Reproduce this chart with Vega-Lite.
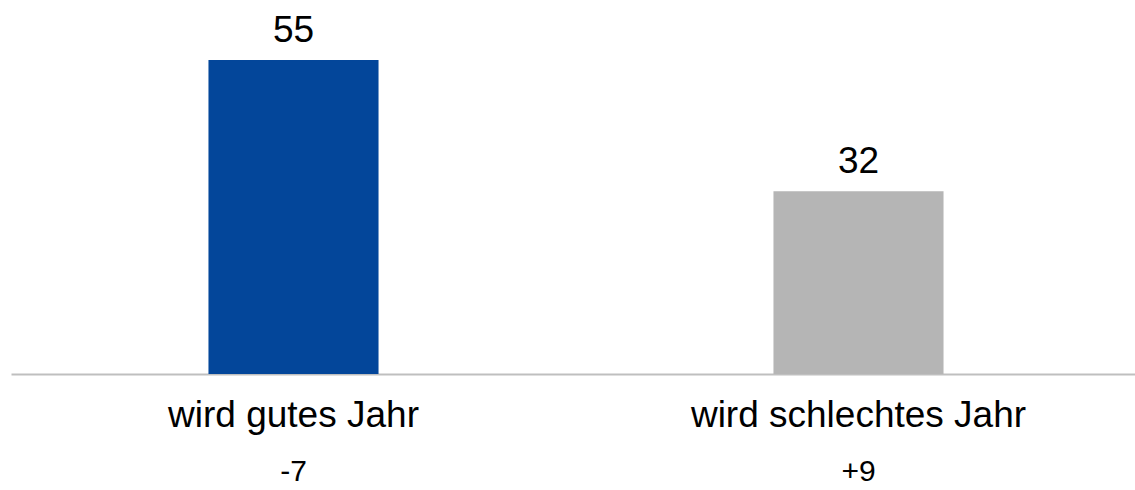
{
  "$schema": "https://vega.github.io/schema/vega-lite/v6.json",
  "width": 1130,
  "height": 374,
  "autosize": {"type": "none"},
  "padding": {"left": 11, "top": 0, "right": 0, "bottom": 116},
  "background": "white",
  "config": {"view": {"stroke": null}, "font": "Liberation Sans"},
  "data": {"values": [
    {"kategorie": "wird gutes Jahr", "wert": 55, "veraenderung": "-7"},
    {"kategorie": "wird schlechtes Jahr", "wert": 32, "veraenderung": "+9"}
  ]},
  "encoding": {
    "x": {"field": "kategorie", "type": "nominal", "sort": null,
      "scale": {"paddingInner": 0, "paddingOuter": 0},
      "axis": {"title": null, "ticks": false, "domainColor": "#bfbfbf", "domainWidth": 2,
        "labelFontSize": 37, "labelColor": "#000000", "labelAngle": 0, "labelLimit": 1000,
        "labelBaseline": "alphabetic", "labelPadding": 52, "labelFont": "Liberation Sans"}}
  },
  "layer": [
    {
      "mark": {"type": "bar", "width": {"band": 0.301}},
      "encoding": {
        "y": {"field": "wert", "type": "quantitative", "scale": {"domain": [0, 65.5], "nice": false, "zero": true}, "axis": null},
        "color": {"field": "kategorie", "type": "nominal", "sort": null,
          "scale": {"range": ["#03469A", "#B5B5B5"]}, "legend": null}
      }
    },
    {
      "mark": {"type": "text", "fontSize": 37, "baseline": "alphabetic", "dy": -18, "color": "#000000"},
      "encoding": {
        "y": {"field": "wert", "type": "quantitative"},
        "text": {"field": "wert", "type": "quantitative"}
      }
    },
    {
      "mark": {"type": "text", "fontSize": 30, "baseline": "alphabetic", "dy": 107, "color": "#000000", "clip": false},
      "encoding": {
        "y": {"datum": 0, "type": "quantitative"},
        "text": {"field": "veraenderung", "type": "nominal"}
      }
    }
  ]
}
